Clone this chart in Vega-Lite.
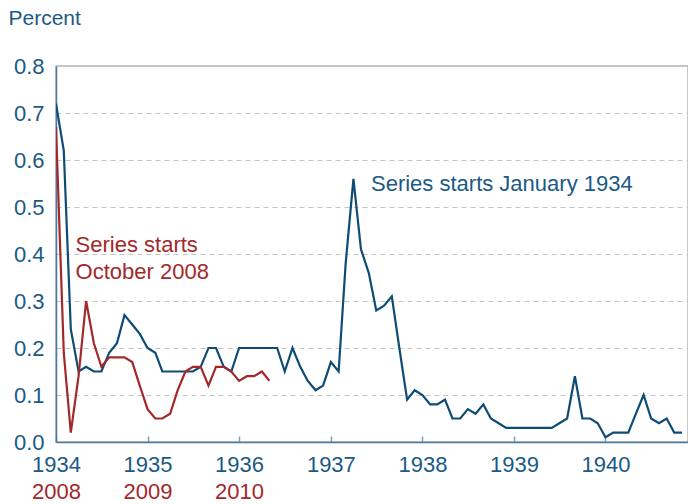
{
  "$schema": "https://vega.github.io/schema/vega-lite/v6.json",
  "width": 632,
  "height": 376,
  "autosize": "none",
  "padding": {"left": 56, "top": 66, "right": 0, "bottom": 62},
  "background": "white",
  "config": {
    "font": "Liberation Sans",
    "view": {"stroke": "#b5b5b5", "strokeWidth": 1.5}
  },
  "datasets": {
    "blue": [
      {"date": "1934-01-01", "v": 0.72}, {"date": "1934-02-01", "v": 0.62}, {"date": "1934-03-01", "v": 0.24},
      {"date": "1934-04-01", "v": 0.15}, {"date": "1934-05-01", "v": 0.16}, {"date": "1934-06-01", "v": 0.15},
      {"date": "1934-07-01", "v": 0.15}, {"date": "1934-08-01", "v": 0.19}, {"date": "1934-09-01", "v": 0.21},
      {"date": "1934-10-01", "v": 0.27}, {"date": "1934-11-01", "v": 0.25}, {"date": "1934-12-01", "v": 0.23},
      {"date": "1935-01-01", "v": 0.20}, {"date": "1935-02-01", "v": 0.19}, {"date": "1935-03-01", "v": 0.15},
      {"date": "1935-04-01", "v": 0.15}, {"date": "1935-05-01", "v": 0.15}, {"date": "1935-06-01", "v": 0.15},
      {"date": "1935-07-01", "v": 0.15}, {"date": "1935-08-01", "v": 0.16}, {"date": "1935-09-01", "v": 0.20},
      {"date": "1935-10-01", "v": 0.20}, {"date": "1935-11-01", "v": 0.16}, {"date": "1935-12-01", "v": 0.15},
      {"date": "1936-01-01", "v": 0.20}, {"date": "1936-02-01", "v": 0.20}, {"date": "1936-03-01", "v": 0.20},
      {"date": "1936-04-01", "v": 0.20}, {"date": "1936-05-01", "v": 0.20}, {"date": "1936-06-01", "v": 0.20},
      {"date": "1936-07-01", "v": 0.15}, {"date": "1936-08-01", "v": 0.20}, {"date": "1936-09-01", "v": 0.16},
      {"date": "1936-10-01", "v": 0.13}, {"date": "1936-11-01", "v": 0.11}, {"date": "1936-12-01", "v": 0.12},
      {"date": "1937-01-01", "v": 0.17}, {"date": "1937-02-01", "v": 0.15}, {"date": "1937-03-01", "v": 0.38},
      {"date": "1937-04-01", "v": 0.56}, {"date": "1937-05-01", "v": 0.41}, {"date": "1937-06-01", "v": 0.36},
      {"date": "1937-07-01", "v": 0.28}, {"date": "1937-08-01", "v": 0.29}, {"date": "1937-09-01", "v": 0.31},
      {"date": "1937-10-01", "v": 0.20}, {"date": "1937-11-01", "v": 0.09}, {"date": "1937-12-01", "v": 0.11},
      {"date": "1938-01-01", "v": 0.10}, {"date": "1938-02-01", "v": 0.08}, {"date": "1938-03-01", "v": 0.08},
      {"date": "1938-04-01", "v": 0.09}, {"date": "1938-05-01", "v": 0.05}, {"date": "1938-06-01", "v": 0.05},
      {"date": "1938-07-01", "v": 0.07}, {"date": "1938-08-01", "v": 0.06}, {"date": "1938-09-01", "v": 0.08},
      {"date": "1938-10-01", "v": 0.05}, {"date": "1938-11-01", "v": 0.04}, {"date": "1938-12-01", "v": 0.03},
      {"date": "1939-01-01", "v": 0.03}, {"date": "1939-02-01", "v": 0.03}, {"date": "1939-03-01", "v": 0.03},
      {"date": "1939-04-01", "v": 0.03}, {"date": "1939-05-01", "v": 0.03}, {"date": "1939-06-01", "v": 0.03},
      {"date": "1939-07-01", "v": 0.04}, {"date": "1939-08-01", "v": 0.05}, {"date": "1939-09-01", "v": 0.14},
      {"date": "1939-10-01", "v": 0.05}, {"date": "1939-11-01", "v": 0.05}, {"date": "1939-12-01", "v": 0.04},
      {"date": "1940-01-01", "v": 0.01}, {"date": "1940-02-01", "v": 0.02}, {"date": "1940-03-01", "v": 0.02},
      {"date": "1940-04-01", "v": 0.02}, {"date": "1940-05-01", "v": 0.06}, {"date": "1940-06-01", "v": 0.10},
      {"date": "1940-07-01", "v": 0.05}, {"date": "1940-08-01", "v": 0.04}, {"date": "1940-09-01", "v": 0.05},
      {"date": "1940-10-01", "v": 0.02}, {"date": "1940-11-01", "v": 0.02}
    ],
    "red": [
      {"date": "1934-01-01", "actual": "2008-10", "v": 0.67}, {"date": "1934-02-01", "actual": "2008-11", "v": 0.19},
      {"date": "1934-03-01", "actual": "2008-12", "v": 0.02}, {"date": "1934-04-01", "actual": "2009-01", "v": 0.14},
      {"date": "1934-05-01", "actual": "2009-02", "v": 0.30}, {"date": "1934-06-01", "actual": "2009-03", "v": 0.21},
      {"date": "1934-07-01", "actual": "2009-04", "v": 0.16}, {"date": "1934-08-01", "actual": "2009-05", "v": 0.18},
      {"date": "1934-09-01", "actual": "2009-06", "v": 0.18}, {"date": "1934-10-01", "actual": "2009-07", "v": 0.18},
      {"date": "1934-11-01", "actual": "2009-08", "v": 0.17}, {"date": "1934-12-01", "actual": "2009-09", "v": 0.12},
      {"date": "1935-01-01", "actual": "2009-10", "v": 0.07}, {"date": "1935-02-01", "actual": "2009-11", "v": 0.05},
      {"date": "1935-03-01", "actual": "2009-12", "v": 0.05}, {"date": "1935-04-01", "actual": "2010-01", "v": 0.06},
      {"date": "1935-05-01", "actual": "2010-02", "v": 0.11}, {"date": "1935-06-01", "actual": "2010-03", "v": 0.15},
      {"date": "1935-07-01", "actual": "2010-04", "v": 0.16}, {"date": "1935-08-01", "actual": "2010-05", "v": 0.16},
      {"date": "1935-09-01", "actual": "2010-06", "v": 0.12}, {"date": "1935-10-01", "actual": "2010-07", "v": 0.16},
      {"date": "1935-11-01", "actual": "2010-08", "v": 0.16}, {"date": "1935-12-01", "actual": "2010-09", "v": 0.15},
      {"date": "1936-01-01", "actual": "2010-10", "v": 0.13}, {"date": "1936-02-01", "actual": "2010-11", "v": 0.14},
      {"date": "1936-03-01", "actual": "2010-12", "v": 0.14}, {"date": "1936-04-01", "actual": "2011-01", "v": 0.15},
      {"date": "1936-05-01", "actual": "2011-02", "v": 0.13}
    ],
    "notes": [
      {"date": "1937-06-10", "v": 0.549, "label": "Series starts January 1934", "series": "blue"},
      {"date": "1934-03-20", "v": 0.419, "label": "Series starts", "series": "red"},
      {"date": "1934-03-20", "v": 0.362, "label": "October 2008", "series": "red"}
    ]
  },
  "layer": [
    {
      "data": {"name": "blue"},
      "mark": {"type": "line", "color": "#0f4c75", "strokeWidth": 2.2, "clip": true},
      "encoding": {
        "x": {
          "field": "date", "type": "temporal",
          "scale": {"type": "utc", "domain": ["1934-01-01", "1940-11-25"], "nice": false},
          "axis": {
            "orient": "bottom", "title": null, "format": "%Y",
            "values": [{"year": 1934, "utc": true}, {"year": 1935, "utc": true}, {"year": 1936, "utc": true}, {"year": 1937, "utc": true}, {"year": 1938, "utc": true}, {"year": 1939, "utc": true}, {"year": 1940, "utc": true}],
            "grid": false, "domainColor": "#4a7a9c", "domainWidth": 1.5,
            "tickColor": "#7f9fb8", "tickSize": -6, "tickWidth": 1.5,
            "labelFontSize": 22, "labelColor": "#1b5a85", "labelPadding": 18,
            "labelFlush": false, "labelOverlap": false
          }
        },
        "y": {
          "field": "v", "type": "quantitative",
          "scale": {"domain": [0, 0.8], "nice": false, "zero": true},
          "axis": {
            "values": [0, 0.1, 0.2, 0.3, 0.4, 0.5, 0.6, 0.7, 0.8], "format": ".1f",
            "grid": true, "gridDash": [5, 4], "gridColor": "#c4c4c4", "gridWidth": 1.2,
            "ticks": false, "domainColor": "#4a7a9c", "domainWidth": 1.5,
            "labelFontSize": 22, "labelColor": "#1b5a85", "labelPadding": 12,
            "title": "Percent", "titleAngle": 0, "titleFontSize": 21, "titleFontWeight": "normal",
            "titleColor": "#1b5a85", "titleAlign": "left", "titleBaseline": "middle",
            "titleX": -48, "titleY": -48
          }
        }
      }
    },
    {
      "data": {"name": "red"},
      "mark": {"type": "line", "color": "#a3282b", "strokeWidth": 2.2, "clip": true},
      "encoding": {
        "x": {
          "field": "date", "type": "temporal",
          "axis": {
            "orient": "bottom", "title": null,
            "values": [{"year": 1934, "utc": true}, {"year": 1935, "utc": true}, {"year": 1936, "utc": true}],
            "labelExpr": "toString(toNumber(utcFormat(datum.value, '%Y')) + 74)",
            "grid": false, "domain": false, "ticks": false,
            "labelFontSize": 22, "labelColor": "#a3282b", "labelPadding": 39,
            "labelFlush": false, "labelOverlap": false
          }
        },
        "y": {"field": "v", "type": "quantitative"}
      }
    },
    {
      "data": {"name": "notes"},
      "mark": {"type": "text", "align": "left", "baseline": "middle", "fontSize": 22},
      "encoding": {
        "x": {"field": "date", "type": "temporal", "axis": null},
        "y": {"field": "v", "type": "quantitative"},
        "text": {"field": "label"},
        "color": {
          "field": "series", "type": "nominal",
          "scale": {"domain": ["blue", "red"], "range": ["#1b5a85", "#a3282b"]},
          "legend": null
        }
      }
    }
  ],
  "resolve": {"axis": {"x": "independent"}}
}
